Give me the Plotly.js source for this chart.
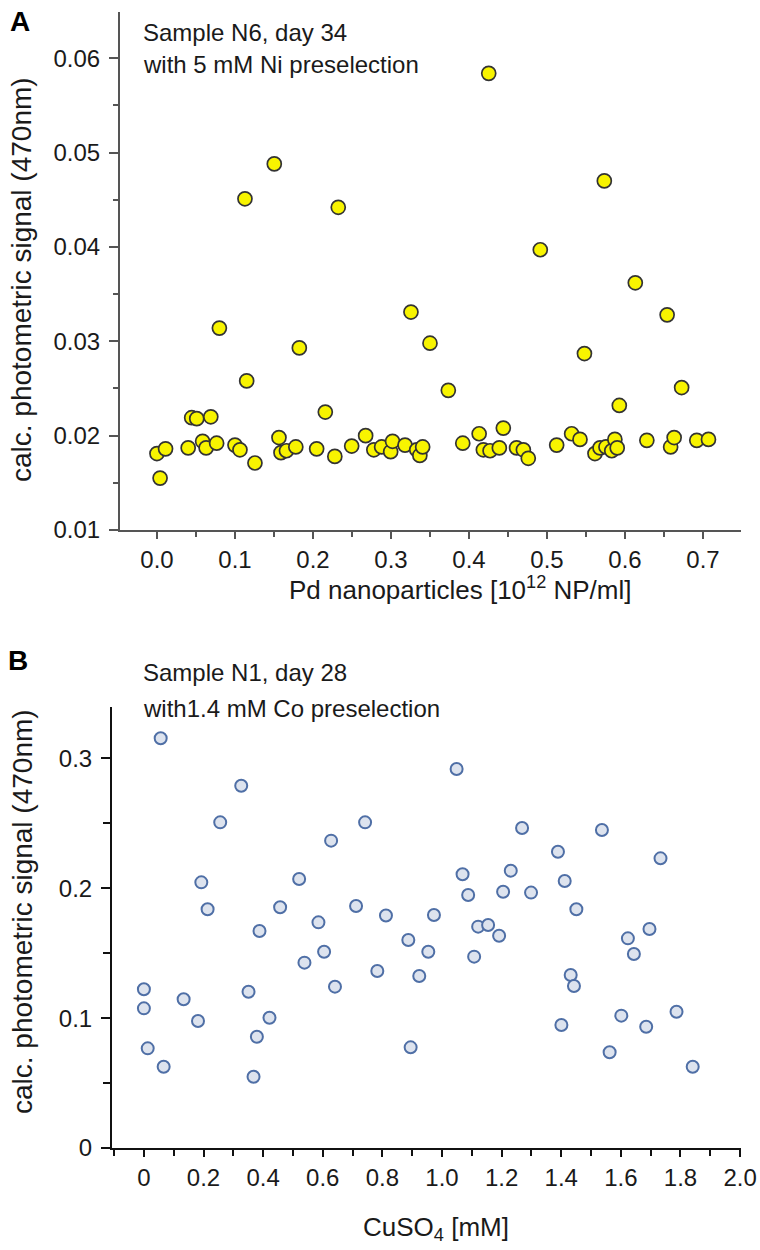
<!DOCTYPE html>
<html>
<head>
<meta charset="utf-8">
<script src="https://cdn.plot.ly/plotly-3.0.1.min.js"></script>
<style>
  html, body { margin: 0; padding: 0; background: #ffffff; }
  #chart { width: 760px; height: 1250px; }
</style>
</head>
<body>
<div id="chart"></div>
<script>
// ---------- Panel A: Sample N6, day 34 ----------
const pdNanoparticles = [
  0.000, 0.004, 0.011, 0.040, 0.0445, 0.051, 0.0585, 0.063, 0.069, 0.0765,
  0.080, 0.100, 0.1064, 0.1128, 0.115, 0.1256, 0.1504, 0.1564, 0.159, 0.166,
  0.178, 0.1825, 0.2047, 0.2158, 0.228, 0.2324, 0.2496, 0.2675, 0.278, 0.288,
  0.2996, 0.302, 0.318, 0.3256, 0.333, 0.337, 0.3406, 0.350, 0.3735, 0.392,
  0.413, 0.4184, 0.4253, 0.427, 0.4389, 0.444, 0.461, 0.4697, 0.476, 0.4914,
  0.5124, 0.5316, 0.5423, 0.548, 0.5615, 0.568, 0.5735, 0.5756, 0.583, 0.587,
  0.590, 0.5927, 0.6132, 0.628, 0.654, 0.6585, 0.663, 0.6726, 0.692, 0.707
];
const signalA = [
  0.0181, 0.0155, 0.0186, 0.0187, 0.0219, 0.0218, 0.0194, 0.0187, 0.0220, 0.0192,
  0.0314, 0.0190, 0.0185, 0.0451, 0.0258, 0.0171, 0.0488, 0.0198, 0.0182, 0.0184,
  0.0188, 0.0293, 0.0186, 0.0225, 0.0178, 0.0442, 0.0189, 0.0200, 0.0185, 0.0188,
  0.0183, 0.0194, 0.0190, 0.0331, 0.0185, 0.0179, 0.0188, 0.0298, 0.0248, 0.0192,
  0.0202, 0.0185, 0.0584, 0.0184, 0.0187, 0.0208, 0.0187, 0.0185, 0.0176, 0.0397,
  0.0190, 0.0202, 0.0196, 0.0287, 0.0181, 0.0187, 0.0470, 0.0188, 0.0184, 0.0196,
  0.0187, 0.0232, 0.0362, 0.0195, 0.0328, 0.0188, 0.0198, 0.0251, 0.0195, 0.0196
];
const xTicksA = [0, 0.1, 0.2, 0.3, 0.4, 0.5, 0.6, 0.7];
const xTickLabelsA = ["0.0", "0.1", "0.2", "0.3", "0.4", "0.5", "0.6", "0.7"];
const yTicksA = [0.01, 0.02, 0.03, 0.04, 0.05, 0.06];
const yTickLabelsA = ["0.01", "0.02", "0.03", "0.04", "0.05", "0.06"];

// ---------- Panel B: Sample N1, day 28 ----------
const cuso4 = [
  0.000, 0.000, 0.0128, 0.0563, 0.0663, 0.1333, 0.1815, 0.1926, 0.2137, 0.256,
  0.3265, 0.351, 0.3678, 0.379, 0.3878, 0.4213, 0.457, 0.5208, 0.5386, 0.5855,
  0.6045, 0.628, 0.641, 0.7117, 0.742, 0.783, 0.812, 0.887, 0.8948, 0.9237,
  0.954, 0.973, 1.049, 1.069, 1.0878, 1.1078, 1.1213, 1.1547, 1.1916, 1.205,
  1.2307, 1.2686, 1.2987, 1.389, 1.4005, 1.4116, 1.4317, 1.4427, 1.4507, 1.5365,
  1.5623, 1.6015, 1.6236, 1.6437, 1.685, 1.696, 1.733, 1.7867, 1.841
];
const signalB = [
  0.1222, 0.1075, 0.0767, 0.3154, 0.0626, 0.1145, 0.0978, 0.2045, 0.1838, 0.2507,
  0.2789, 0.1203, 0.0549, 0.0857, 0.1671, 0.1003, 0.1853, 0.2071, 0.1427, 0.1737,
  0.1511, 0.2366, 0.1242, 0.1863, 0.2507, 0.1363, 0.1790, 0.1601, 0.0775, 0.1324,
  0.1511, 0.1794, 0.2918, 0.2107, 0.1948, 0.1473, 0.1704, 0.1717, 0.1634, 0.1973,
  0.2135, 0.2463, 0.1966, 0.2281, 0.0947, 0.2055, 0.1332, 0.1247, 0.1838, 0.2448,
  0.0737, 0.1019, 0.1614, 0.1493, 0.0934, 0.1686, 0.2230, 0.1049, 0.0626
];
const xTicksB = [0, 0.2, 0.4, 0.6, 0.8, 1.0, 1.2, 1.4, 1.6, 1.8, 2.0];
const xTickLabelsB = ["0", "0.2", "0.4", "0.6", "0.8", "1.0", "1.2", "1.4", "1.6", "1.8", "2.0"];
const yTicksB = [0, 0.1, 0.2, 0.3];
const yTickLabelsB = ["0", "0.1", "0.2", "0.3"];

// ---------- Texts ----------
const panelLabels = ["A", "B"];
const notesA = ["Sample N6, day 34", "with 5 mM Ni preselection"];
const notesB = ["Sample N1, day 28", "with1.4 mM Co preselection"];
const yTitle = "calc. photometric signal (470nm)";
const xTitleA = "Pd nanoparticles [10<sup>12</sup> NP/ml]";
const xTitleB = "CuSO<sub>4</sub> [mM]";

const FONT = "Liberation Sans, Arial, Helvetica, sans-serif";
const W = 760, H = 1250;
const px = v => v / W;
const py = v => (H - v) / H;

const traces = [
  {
    type: "scatter", mode: "markers", x: pdNanoparticles, y: signalA,
    xaxis: "x", yaxis: "y", hoverinfo: "x+y",
    marker: { size: 14, color: "#f8f400", line: { color: "#333333", width: 1.7 } }
  },
  {
    type: "scatter", mode: "markers", x: cuso4, y: signalB,
    xaxis: "x2", yaxis: "y2", hoverinfo: "x+y",
    marker: { size: 12, color: "#dde3ee", line: { color: "#4f6fa6", width: 2 } }
  }
];

function axisBase(color) {
  return {
    showline: true, linecolor: color, linewidth: 2, mirror: false,
    showgrid: false, zeroline: false,
    ticks: "outside", ticklen: 9, tickwidth: 2, tickcolor: color,
    tickfont: { family: FONT, size: 24, color: "#1a1a1a" },
    tickmode: "array", fixedrange: true
  };
}

const layout = {
  width: W, height: H,
  margin: { l: 0, r: 0, t: 0, b: 0 },
  paper_bgcolor: "#ffffff", plot_bgcolor: "#ffffff",
  showlegend: false,
  xaxis: Object.assign(axisBase("#555555"), {
    domain: [px(120), px(741)], anchor: "y",
    range: [-0.0474, 0.7487],
    tickvals: xTicksA, ticktext: xTickLabelsA, ticklen: 7,
    minor: { tickmode: "linear", tick0: 0, dtick: 0.05, ticks: "outside", ticklen: 5, tickwidth: 2, tickcolor: "#555555" }
  }),
  yaxis: Object.assign(axisBase("#555555"), {
    domain: [py(530), py(12)], anchor: "x",
    range: [0.01, 0.0649],
    tickvals: yTicksA, ticktext: yTickLabelsA,
    ticklabelstandoff: 4,
    minor: { tickmode: "linear", tick0: 0.01, dtick: 0.005, ticks: "outside", ticklen: 5, tickwidth: 2, tickcolor: "#555555" }
  }),
  xaxis2: Object.assign(axisBase("#111111"), {
    domain: [px(112), px(741)], anchor: "y2",
    range: [-0.107, 2.003],
    tickvals: xTicksB, ticktext: xTickLabelsB, ticklen: 7,
    minor: { tickmode: "linear", tick0: 0, dtick: 0.1, ticks: "outside", ticklen: 6, tickwidth: 2, tickcolor: "#111111" }
  }),
  yaxis2: Object.assign(axisBase("#111111"), {
    domain: [py(1148), py(707)], anchor: "x2",
    range: [0, 0.3395],
    tickvals: yTicksB, ticktext: yTickLabelsB,
    ticklabelstandoff: 4,
    minor: { tickmode: "linear", tick0: 0, dtick: 0.05, ticks: "outside", ticklen: 7, tickwidth: 2, tickcolor: "#111111" }
  }),
  annotations: [
    { text: "<b>" + panelLabels[0] + "</b>", x: px(20), y: py(22), xref: "paper", yref: "paper",
      xanchor: "center", yanchor: "middle", showarrow: false, font: { family: FONT, size: 28, color: "#000" } },
    { text: notesA[0], x: px(141), y: py(33), xref: "paper", yref: "paper",
      xanchor: "left", yanchor: "middle", showarrow: false, font: { family: FONT, size: 24, color: "#1a1a1a" } },
    { text: notesA[1], x: px(141), y: py(64), xref: "paper", yref: "paper",
      xanchor: "left", yanchor: "middle", showarrow: false, font: { family: FONT, size: 24, color: "#1a1a1a" } },
    { text: yTitle, x: px(22), y: py(280), xref: "paper", yref: "paper", textangle: -90,
      xanchor: "center", yanchor: "middle", showarrow: false, font: { family: FONT, size: 28, color: "#1a1a1a" } },
    { text: xTitleA, x: px(460), y: py(588), xref: "paper", yref: "paper",
      xanchor: "center", yanchor: "middle", showarrow: false, font: { family: FONT, size: 26, color: "#1a1a1a" } },

    { text: "<b>" + panelLabels[1] + "</b>", x: px(18), y: py(661), xref: "paper", yref: "paper",
      xanchor: "center", yanchor: "middle", showarrow: false, font: { family: FONT, size: 28, color: "#000" } },
    { text: notesB[0], x: px(141), y: py(672), xref: "paper", yref: "paper",
      xanchor: "left", yanchor: "middle", showarrow: false, font: { family: FONT, size: 24, color: "#1a1a1a" } },
    { text: notesB[1], x: px(141), y: py(708), xref: "paper", yref: "paper",
      xanchor: "left", yanchor: "middle", showarrow: false, font: { family: FONT, size: 24, color: "#1a1a1a" } },
    { text: yTitle, x: px(22), y: py(912), xref: "paper", yref: "paper", textangle: -90,
      xanchor: "center", yanchor: "middle", showarrow: false, font: { family: FONT, size: 28, color: "#1a1a1a" } },
    { text: xTitleB, x: px(436), y: py(1228), xref: "paper", yref: "paper",
      xanchor: "center", yanchor: "middle", showarrow: false, font: { family: FONT, size: 26, color: "#1a1a1a" } }
  ]
};

Plotly.newPlot("chart", traces, layout, { staticPlot: true, displayModeBar: false });
</script>
</body>
</html>
